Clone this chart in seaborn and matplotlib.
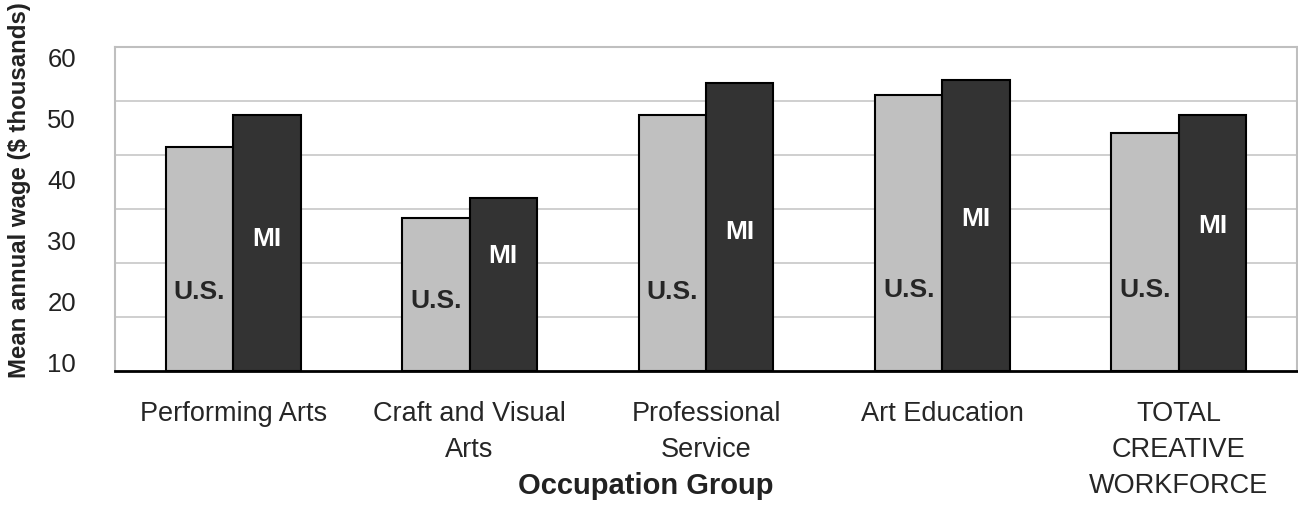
import matplotlib
matplotlib.use("Agg")
import matplotlib.pyplot as plt
import numpy as np
import pandas as pd
import seaborn as sns


GROUPS = ["Performing Arts", "Craft and Visual\nArts", "Professional\nService",
          "Art Education", "TOTAL\nCREATIVE\nWORKFORCE"]
REGIONS = ["U.S.", "MI"]
US_WAGE = [41.5, 28.3, 47.4, 51.1, 44.1]
MI_WAGE = [47.5, 32.0, 53.4, 53.8, 47.5]
Y_LABELS = ["10", "20", "30", "40", "50", "60"]

# where the in-bar labels sit (data units)
US_LABEL_Y = [14.9, 13.2, 14.9, 15.2, 15.2]
MI_LABEL_Y = [24.6, 21.5, 26.0, 28.3, 27.0]

COLORS = {"U.S.": "#C0C0C0", "MI": "#333333"}
BAR_WIDTH = 0.57


def build_frame() -> pd.DataFrame:
    rows = []
    for i, group in enumerate(GROUPS):
        rows.append({"group": group, "region": "U.S.", "wage": US_WAGE[i]})
        rows.append({"group": group, "region": "MI", "wage": MI_WAGE[i]})
    return pd.DataFrame(rows)


def main() -> None:
    sns.set_theme(style="white")
    plt.rcParams["font.family"] = ["Liberation Sans", "DejaVu Sans"]

    frame = build_frame()
    fig = plt.figure(figsize=(12.98, 5.10), dpi=100)
    ax = fig.add_axes([115 / 1298, 138 / 510, 1182 / 1298, 324 / 510])

    sns.barplot(data=frame, x="group", y="wage", hue="region", hue_order=REGIONS,
                palette=COLORS, width=BAR_WIDTH, edgecolor="black", linewidth=1.5,
                legend=False, ax=ax, zorder=3)

    ax.set_xlim(-0.5, len(GROUPS) - 0.5)
    ax.set_ylim(0, 60)

    # gridlines every 10, labels placed the way the original chart shows them
    ax.set_yticks(np.arange(10, 60, 10), minor=True)
    ax.yaxis.grid(True, which="minor", color="#CCCCCC", linewidth=1.3, zorder=0)
    ax.set_yticks(np.linspace(1.85, 58.15, len(Y_LABELS)), Y_LABELS)
    ax.tick_params(axis="y", which="both", length=0, labelsize=18.5, pad=28, colors="#222222")

    # category ticks between groups, labels centred on the groups
    ax.set_xticks(np.arange(len(GROUPS) + 1) - 0.5, [""] * (len(GROUPS) + 1))
    ax.set_xticks(np.arange(len(GROUPS)), GROUPS, minor=True)
    ax.tick_params(axis="x", which="major", length=7, width=1.2, color="black", direction="out")
    ax.tick_params(axis="x", which="minor", length=0, labelsize=19.5, pad=21)
    for label in ax.get_xticklabels(minor=True):
        label.set_linespacing(1.5)
        label.set_verticalalignment("top")

    for side in ["left", "top", "right"]:
        ax.spines[side].set_color("#BFBFBF")
        ax.spines[side].set_linewidth(1.5)
    ax.spines["bottom"].set_color("black")
    ax.spines["bottom"].set_linewidth(2)

    half = BAR_WIDTH / 4
    for i in range(len(GROUPS)):
        ax.text(i - half, US_LABEL_Y[i], "U.S.", ha="center", va="center",
                fontsize=19, fontweight="bold", color="#262626", zorder=5)
        ax.text(i + half, MI_LABEL_Y[i], "MI", ha="center", va="center",
                fontsize=19, fontweight="bold", color="white", zorder=5)

    ax.set_xlabel("")
    ax.set_ylabel("")
    fig.text(646 / 1298, 1 - 486 / 510, "Occupation Group", ha="center", va="center",
             fontsize=21, fontweight="bold", color="#222222")
    fig.text(20 / 1298, 1 - 190 / 510, "Mean annual wage ($ thousands)", rotation=90,
             ha="center", va="center", fontsize=17.3, fontweight="bold", color="#222222")

    fig.savefig("out.png", dpi=100)
    plt.close(fig)


if __name__ == "__main__":
    main()
